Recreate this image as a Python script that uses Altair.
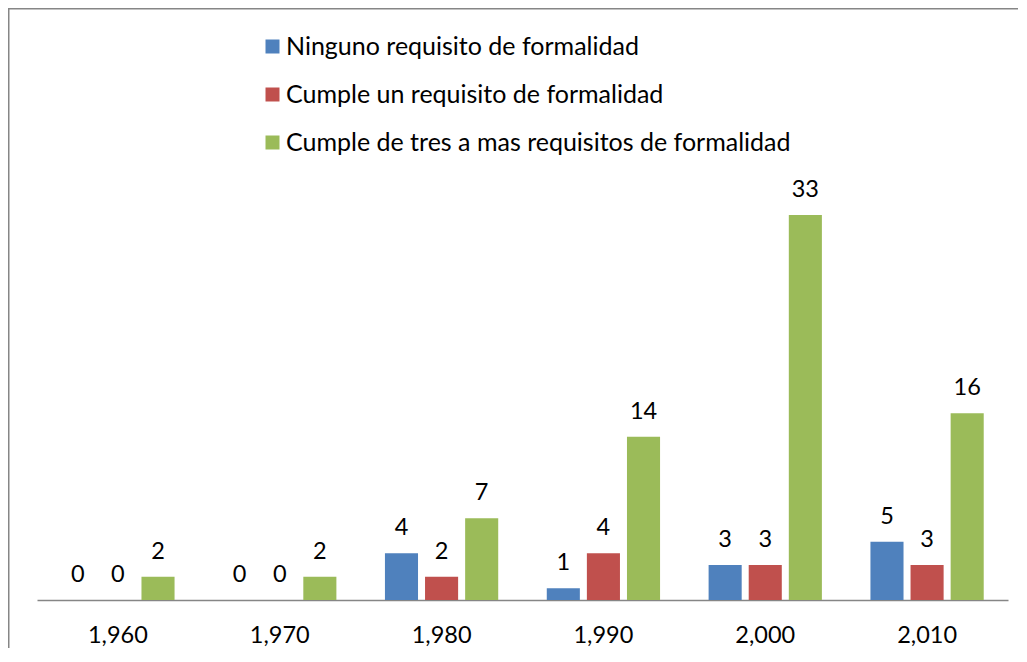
import altair as alt
import pandas as pd

years = ["1,960", "1,970", "1,980", "1,990", "2,000", "2,010"]
series = [
    "Ninguno requisito de formalidad",
    "Cumple un requisito de formalidad",
    "Cumple de tres a mas requisitos de formalidad",
]
ninguno = [0, 0, 4, 1, 3, 5]
cumple_uno = [0, 0, 2, 4, 3, 3]
cumple_tres = [2, 2, 7, 14, 33, 16]
colors = ["#4F81BD", "#C0504D", "#9BBB59"]

rows = []
for s, vals in zip(series, [ninguno, cumple_uno, cumple_tres]):
    for yr, v in zip(years, vals):
        rows.append({"year": yr, "serie": s, "valor": v})
df = pd.DataFrame(rows)

FONT = "Lato"
FS = 23.5
LFS = 25

x = alt.X(
    "year:N",
    sort=years,
    title=None,
    scale=alt.Scale(paddingInner=0.3, paddingOuter=0.15),
    axis=alt.Axis(
        labelAngle=0,
        ticks=False,
        domainColor="#868686",
        domainWidth=1.5,
        labelFontSize=FS,
        labelFont=FONT,
        labelColor="black",
        labelPadding=23,
    ),
)
xo = alt.XOffset("serie:N", sort=series, scale=alt.Scale(paddingInner=0.175, paddingOuter=0))
y = alt.Y("valor:Q", scale=alt.Scale(domain=[0, 33], nice=False), axis=None)

bars = alt.Chart(df).mark_bar().encode(
    x=x,
    xOffset=xo,
    y=y,
    color=alt.Color(
        "serie:N",
        sort=series,
        scale=alt.Scale(domain=series, range=colors),
        legend=alt.Legend(
            orient="none",
            legendX=223,
            legendY=-181,
            title=None,
            symbolType="square",
            symbolSize=196,
            symbolStrokeWidth=0,
            labelFontSize=LFS,
            labelFont=FONT,
            labelColor="black",
            labelOffset=1,
            rowPadding=22,
            padding=0,
            labelLimit=800,
        ),
    ),
)

labels = alt.Chart(df).mark_text(
    dy=-18, baseline="alphabetic", fontSize=FS, font=FONT, color="black"
).encode(x=x, xOffset=xo, y=y, text="valor:Q")

frame_df = pd.DataFrame({"k": [0]})
frame = alt.Chart(frame_df).mark_rect(
    fill="transparent", stroke="#868686", strokeWidth=2
).encode(
    x=alt.value(-28.5), x2=alt.value(1200), y=alt.value(-206.5), y2=alt.value(700)
)

chart = (
    alt.layer(frame, bars, labels)
    .properties(
        width=971,
        height=385,
        autosize=alt.AutoSizeParams(type="none"),
        padding={"left": 29, "top": 207, "right": 10, "bottom": 48},
        background="white",
    )
    .configure_view(stroke=None)
)

chart.save("out.html", embed_options={"renderer": "svg", "actions": False})
